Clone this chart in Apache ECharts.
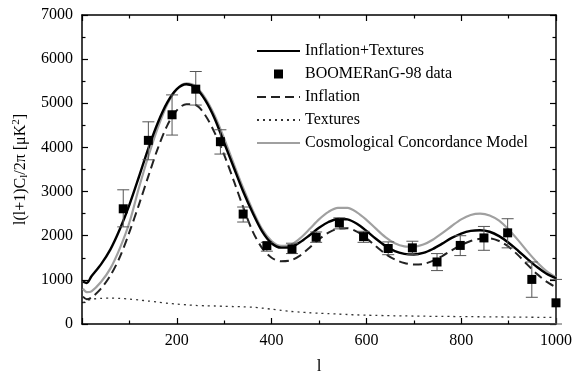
<!DOCTYPE html>
<html><head><meta charset="utf-8">
<script src="https://cdn.jsdelivr.net/npm/echarts@6/dist/echarts.min.js"></script>
<style>html,body{margin:0;padding:0;background:#fff}#c{width:580px;height:381px}</style>
</head><body><div id="c"></div>
<script>
// multipole grid for model curves
const ell = [2,10,20,40,60,80,100,120,140,160,180,200,220,240,260,280,300,320,340,360,380,400,420,440,460,480,500,520,540,560,580,600,620,640,660,680,700,720,740,760,780,800,820,840,860,880,900,920,940,960,980,1000];
const inflationTextures = [960,930,1080,1350,1690,2150,2700,3330,3980,4560,5020,5320,5430,5350,5070,4650,4100,3550,3000,2520,2100,1830,1730,1740,1850,2010,2180,2310,2380,2370,2270,2110,1930,1770,1650,1590,1575,1610,1700,1820,1950,2050,2110,2125,2090,1990,1840,1660,1470,1290,1140,1040];
const inflation = [620,560,600,800,1100,1520,2080,2700,3350,3980,4500,4840,4980,4960,4730,4330,3830,3250,2650,2100,1720,1500,1420,1440,1550,1730,1920,2070,2160,2170,2090,1940,1760,1590,1460,1380,1350,1360,1430,1540,1670,1790,1880,1930,1940,1880,1750,1560,1340,1130,960,830];
const textures = [480,530,560,580,585,580,565,545,520,495,470,450,435,420,412,408,400,395,390,380,360,335,310,285,270,255,245,235,225,215,205,200,195,190,186,183,180,177,174,172,170,168,166,164,162,160,158,156,154,152,151,150];
const concordance = [800,720,740,950,1260,1720,2300,3080,3800,4450,4980,5320,5450,5380,5120,4720,4200,3630,3080,2580,2150,1880,1770,1790,1940,2150,2370,2540,2630,2630,2530,2360,2160,1970,1830,1760,1750,1800,1910,2060,2220,2370,2470,2500,2460,2340,2140,1900,1640,1400,1200,1060];
// BOOMERanG-98 band powers
const dataL   = [87,140,190,240,292,340,390,443,494,543,594,646,697,749,798,848,898,949,1000];
const dataV   = [2610,4160,4740,5320,4130,2490,1775,1700,1965,2290,1980,1710,1725,1405,1780,1950,2065,1010,480];
const dataLow = [2200,3720,4280,4960,3850,2310,1650,1595,1850,2155,1850,1570,1570,1210,1550,1670,1725,605,0];
const dataHigh= [3040,4580,5190,5720,4400,2650,1850,1830,2085,2405,2100,1860,1875,1595,2000,2210,2385,1405,1010];
const xTicks = [0,1000,200];
const yTicks = [0,7000,1000];

const pair = (xs, ys) => xs.map((x,i)=>[x, ys[i]]);
const serif = 'Liberation Serif';
const chart = echarts.init(document.getElementById('c'));
const axisCommon = () => ({
  axisLine:{show:true,onZero:false,lineStyle:{color:'#000',width:1.5}},
  axisTick:{show:true,inside:true,length:6,lineStyle:{color:'#000',width:1.2}},
  minorTick:{show:true,splitNumber:2,length:3.5,lineStyle:{color:'#000',width:1.2}},
  splitLine:{show:false}
});
const hideSym = {itemStyle:{opacity:0}};
chart.setOption({
  animation:false,
  backgroundColor:'#fff',
  grid:{left:82,right:24,top:15,bottom:57,containLabel:false,outerBoundsMode:'none'},
  legend:{
    orient:'vertical', left:256, top:43, padding:0, itemWidth:43, itemHeight:9, itemGap:7,
    textStyle:{fontFamily:serif,fontSize:16,color:'#000',lineHeight:16},
    data:[
      Object.assign({name:'Inflation+Textures'},hideSym),
      {name:'BOOMERanG-98 data',icon:'path://M0,0h10v10h-10z',itemStyle:{color:'#000',opacity:1}},
      Object.assign({name:'Inflation'},hideSym),
      Object.assign({name:'Textures'},hideSym),
      Object.assign({name:'Cosmological Concordance Model'},hideSym)
    ]
  },
  xAxis:[
    Object.assign(axisCommon(),{type:'value',min:xTicks[0],max:xTicks[1],interval:xTicks[2],position:'bottom',
      name:'l',nameLocation:'middle',nameGap:34,nameTextStyle:{fontFamily:serif,fontSize:17,color:'#000'},
      axisLabel:{fontFamily:serif,fontSize:16,color:'#000',margin:9,formatter:v=>v===0?'':String(v)}}),
    Object.assign(axisCommon(),{type:'value',min:xTicks[0],max:xTicks[1],interval:xTicks[2],position:'top',axisLabel:{show:false}})
  ],
  yAxis:[
    Object.assign(axisCommon(),{type:'value',min:yTicks[0],max:yTicks[1],interval:yTicks[2],position:'left',
      name:'l(l+1)C{s|l}/2π [μK{p|2}]',nameLocation:'middle',nameGap:48,nameRotate:90,
      nameTextStyle:{fontFamily:serif,fontSize:16,color:'#000',
        rich:{s:{fontFamily:serif,fontSize:11,verticalAlign:'bottom',padding:[8,0,0,0]},
              p:{fontFamily:serif,fontSize:11,verticalAlign:'top',padding:[0,0,8,0]}}},
      axisLabel:{fontFamily:serif,fontSize:16,color:'#000',margin:9,formatter:v=>String(v)}}),
    Object.assign(axisCommon(),{type:'value',min:yTicks[0],max:yTicks[1],interval:yTicks[2],position:'right',axisLabel:{show:false}})
  ],
  series:[
    {name:'Textures',type:'line',data:pair(ell,textures),smooth:0.3,showSymbol:false,symbol:'none',
      itemStyle:{color:'#333'},lineStyle:{color:'#333',width:1.3,type:[2,4]},z:2},
    {name:'Cosmological Concordance Model',type:'line',data:pair(ell,concordance),smooth:0.3,symbol:'none',
      itemStyle:{color:'#a0a0a0'},lineStyle:{color:'#a0a0a0',width:2.2},z:3},
    {name:'Inflation',type:'line',data:pair(ell,inflation),smooth:0.3,symbol:'none',
      itemStyle:{color:'#222'},lineStyle:{color:'#222',width:2,type:[9,5]},z:4},
    {name:'Inflation+Textures',type:'line',data:pair(ell,inflationTextures),smooth:0.3,symbol:'none',
      itemStyle:{color:'#000'},lineStyle:{color:'#000',width:2.4},z:5},
    {name:'errors',type:'custom',z:6,
      data:dataL.map((l,i)=>[l,dataLow[i],dataHigh[i]]),
      renderItem:(params,api)=>{
        const lo=api.coord([api.value(0),api.value(1)]);
        const hi=api.coord([api.value(0),api.value(2)]);
        const w=6;
        const st={stroke:'#555',lineWidth:1};
        return {type:'group',children:[
          {type:'line',shape:{x1:lo[0],y1:lo[1],x2:hi[0],y2:hi[1]},style:st},
          {type:'line',shape:{x1:lo[0]-w,y1:lo[1],x2:lo[0]+w,y2:lo[1]},style:st},
          {type:'line',shape:{x1:hi[0]-w,y1:hi[1],x2:hi[0]+w,y2:hi[1]},style:st}
        ]};
      }},
    {name:'BOOMERanG-98 data',type:'scatter',data:pair(dataL,dataV),symbol:'rect',symbolSize:9,
      itemStyle:{color:'#000',opacity:1},z:7}
  ]
});
</script></body></html>
